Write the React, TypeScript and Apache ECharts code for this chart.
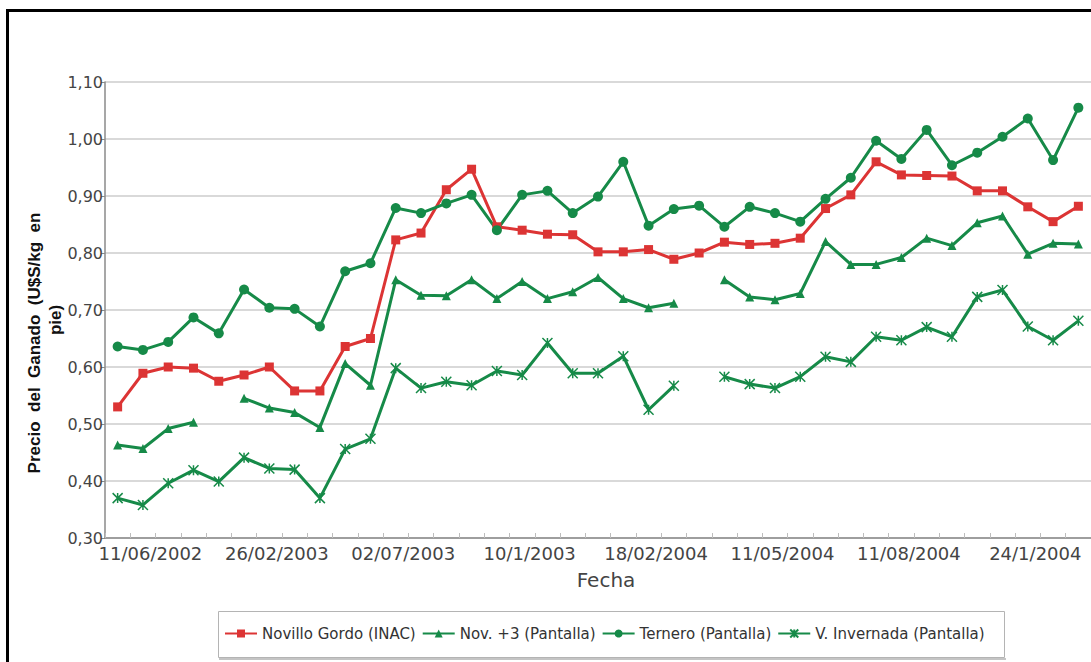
import React, { useEffect, useRef } from "react";
import * as echarts from "echarts";

// Etiquetas del eje de fechas (una cada cinco observaciones, empezando por la segunda)
const etiquetasFecha = [
  "11/06/2002",
  "26/02/2003",
  "02/07/2003",
  "10/1/2003",
  "18/02/2004",
  "11/05/2004",
  "11/08/2004",
  "24/1/2004",
];
const totalObservaciones = 39;

// Precios en U$S/kg en pie
const novilloGordo = [
  0.53, 0.589, 0.6, 0.598, 0.575, 0.586, 0.6, 0.558, 0.558, 0.636, 0.65, 0.823, 0.835,
  0.911, 0.947, 0.846, 0.84, 0.833, 0.832, 0.802, 0.802, 0.806, 0.789, 0.8, 0.819, 0.815,
  0.817, 0.826, 0.878, 0.902, 0.96, 0.937, 0.936, 0.935, 0.909, 0.909, 0.881, 0.855, 0.882,
];
const novMas3 = [
  0.463, 0.457, 0.492, 0.503, null, 0.545, 0.528, 0.52, 0.494, 0.606, 0.568, 0.753, 0.726,
  0.725, 0.753, 0.72, 0.75, 0.72, 0.732, 0.757, 0.72, 0.704, 0.712, null, 0.753, 0.723,
  0.718, 0.729, 0.82, 0.78, 0.78, 0.792, 0.826, 0.813, 0.853, 0.865, 0.798, 0.817, 0.816,
];
const ternero = [
  0.636, 0.63, 0.644, 0.687, 0.659, 0.736, 0.704, 0.702, 0.671, 0.768, 0.782, 0.879, 0.87,
  0.887, 0.902, 0.84, 0.902, 0.909, 0.87, 0.899, 0.96, 0.848, 0.877, 0.883, 0.846, 0.881,
  0.87, 0.855, 0.895, 0.932, 0.997, 0.965, 1.016, 0.954, 0.976, 1.004, 1.036, 0.963, 1.055,
];
const vInvernada = [
  0.37, 0.358, 0.396, 0.419, 0.399, 0.441, 0.422, 0.42, 0.37, 0.456, 0.474, 0.598, 0.563,
  0.574, 0.568, 0.593, 0.586, 0.642, 0.589, 0.589, 0.619, 0.525, 0.567, null, 0.583, 0.57,
  0.563, 0.583, 0.618, 0.609, 0.653, 0.647, 0.67, 0.653, 0.723, 0.735, 0.671, 0.647, 0.681,
];

const ROJO = "#dc3434";
const VERDE = "#168a48";
const FUENTE = "'DejaVu Sans', sans-serif";

// Categorías: la etiqueta aparece en las posiciones 1, 6, 11, ...
const fechas: string[] = Array.from({ length: totalObservaciones }, (_, i) =>
  i % 5 === 1 ? etiquetasFecha[(i - 1) / 5] ?? "" : ""
);

const ESTRELLA = "path://M0 0L10 10M10 0L0 10M5 0L5 10";

function serie(nombre: string, datos: (number | null)[], color: string, simbolo: string, tam: number, borde = 0) {
  return {
    name: nombre,
    type: "line",
    data: datos,
    symbol: simbolo,
    symbolSize: tam,
    showSymbol: true,
    showAllSymbol: true,
    connectNulls: false,
    lineStyle: { color, width: 3 },
    itemStyle: { color, borderColor: color, borderWidth: borde },
    emphasis: { disabled: true },
  };
}

export default function App() {
  const ref = useRef<HTMLDivElement>(null);

  useEffect(() => {
    if (!ref.current) return;
    const chart = echarts.init(ref.current, undefined, { renderer: "svg" });
    chart.setOption({
      animation: false,
      backgroundColor: "#ffffff",
      grid: { left: 105, top: 82, width: 987, height: 456, containLabel: false },
      legend: {
        left: 224,
        top: 626,
        padding: 0,
        itemWidth: 32,
        itemHeight: 10,
        itemGap: 6,
        z: 10,
        textStyle: { fontFamily: FUENTE, fontSize: 15, color: "#333" },
        data: [
          "Novillo Gordo (INAC)",
          "Nov. +3 (Pantalla)",
          "Ternero (Pantalla)",
          "V. Invernada (Pantalla)",
        ],
      },
      xAxis: {
        type: "category",
        data: fechas,
        boundaryGap: true,
        axisLine: { lineStyle: { color: "#8a8a8a", width: 1.5 } },
        axisTick: { show: true, interval: 0, inside: true, length: 5, lineStyle: { color: "#bdbdbd" } },
        axisLabel: {
          interval: (i: number) => i % 5 === 1,
          margin: 6,
          padding: [0, 0, 0, 15],
          fontFamily: FUENTE,
          fontSize: 18,
          color: "#444",
        },
        splitLine: { show: false },
      },
      yAxis: {
        type: "value",
        min: 0.3,
        max: 1.1,
        interval: 0.1,
        axisLine: { show: true, lineStyle: { color: "#8a8a8a", width: 1.5 } },
        axisTick: { show: true, length: 4, lineStyle: { color: "#8a8a8a" } },
        axisLabel: {
          margin: 2,
          fontFamily: FUENTE,
          fontSize: 16,
          color: "#444",
          formatter: (v: number) => v.toFixed(2).replace(".", ","),
        },
        splitLine: { lineStyle: { color: "#cdcdcd", width: 1.5 } },
      },
      graphic: [
        {
          type: "rect",
          z: -10,
          shape: { x: 7.5, y: 10.5, width: 1200, height: 800 },
          style: { fill: "none", stroke: "#000", lineWidth: 3 },
        },
        {
          type: "rect",
          z: 0,
          shape: { x: 218.5, y: 611.5, width: 786, height: 46 },
          style: { fill: "#fff", stroke: "#b4b4b4", lineWidth: 1 },
        },
        {
          type: "line",
          z: 0,
          shape: { x1: 219, y1: 659, x2: 1006, y2: 659 },
          style: { stroke: "#c4c4c4", lineWidth: 2 },
        },
        {
          type: "text",
          x: 606,
          y: 580,
          style: {
            text: "Fecha",
            font: `20px ${FUENTE}`,
            fill: "#444",
            textAlign: "center",
            textVerticalAlign: "middle",
          },
        },
        {
          type: "text",
          x: 34,
          y: 343,
          rotation: Math.PI / 2,
          style: {
            text: "Precio  del  Ganado  (U$S/kg  en",
            font: "bold 17px 'Liberation Sans', Arial, sans-serif",
            fill: "#111",
            textAlign: "center",
            textVerticalAlign: "middle",
          },
        },
        {
          type: "text",
          x: 55,
          y: 320,
          rotation: Math.PI / 2,
          style: {
            text: "pie)",
            font: "bold 17px 'Liberation Sans', Arial, sans-serif",
            fill: "#111",
            textAlign: "center",
            textVerticalAlign: "middle",
          },
        },
      ],
      series: [
        serie("Novillo Gordo (INAC)", novilloGordo, ROJO, "rect", 9),
        serie("Nov. +3 (Pantalla)", novMas3, VERDE, "triangle", 9),
        serie("Ternero (Pantalla)", ternero, VERDE, "circle", 10),
        serie("V. Invernada (Pantalla)", vInvernada, VERDE, ESTRELLA, 10, 1.5),
      ],
    });
    return () => chart.dispose();
  }, []);

  return (
    <div
      ref={ref}
      style={{ position: "absolute", left: 0, top: 0, width: 1091, height: 662, overflow: "hidden" }}
    />
  );
}
